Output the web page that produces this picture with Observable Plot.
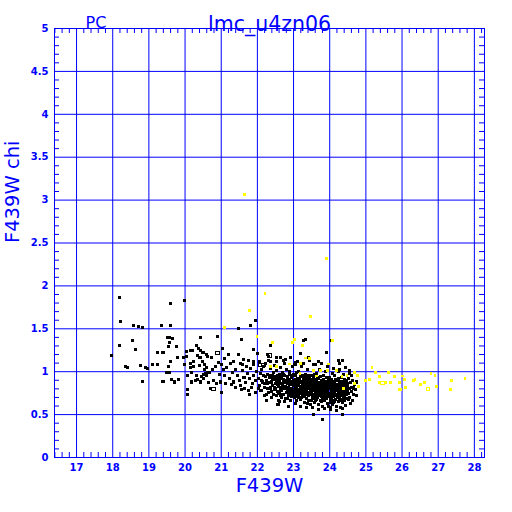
<!DOCTYPE html>
<html>
<head>
<meta charset="utf-8">
<script src="https://cdn.jsdelivr.net/npm/d3@7"></script>
<script src="https://cdn.jsdelivr.net/npm/@observablehq/plot@0.6"></script>
<style>
  body { margin: 0; background: #fff; }
  svg { display: block; }
</style>
</head>
<body>
<div id="chart"></div>
<script>
// ---- axis ticks / labels ----
const xTicks = [17, 18, 19, 20, 21, 22, 23, 24, 25, 26, 27, 28];
const yTicks = [0, 0.5, 1, 1.5, 2, 2.5, 3, 3.5, 4, 4.5, 5];
const titleText = "lmc_u4zn06";
const cornerText = "PC";
const xLabel = "F439W";
const yLabel = "F439W chi";

// ---- black stars (F439W, chi) ----
const blackSparse = [
  [18.18,1.86],[19.59,1.80],[19.98,1.83],[18.21,1.58],[18.58,1.54],[18.70,1.53],[18.81,1.51],[19.34,1.54],[19.61,1.54],
  [18.54,1.36],[18.18,1.30],[17.96,1.19],[18.64,1.26],[19.51,1.40],[19.56,1.40],[19.64,1.39],[19.56,1.34],[19.54,1.29],
  [19.76,1.29],[19.23,1.22],[19.39,1.22],[18.36,1.06],[18.40,1.05],[18.77,1.07],[18.91,1.05],[18.96,1.04],[19.10,1.08],
  [19.24,1.08],[19.55,1.06],[19.60,1.12],[19.78,1.16],[19.98,1.08],[18.81,0.89],[19.39,0.89],[19.48,0.99],[19.57,0.99],
  [19.63,0.91],[19.70,0.88],[19.83,0.91],[20.07,0.79],
  [20.04,1.23],[20.15,1.25],[20.20,1.25],[20.33,1.31],[20.38,1.27],[20.43,1.25],[20.35,1.19],[20.04,1.18],[19.96,1.17],
  [20.15,1.10],[20.24,1.12],[20.40,1.16],[20.47,1.12],[20.58,1.20],[20.62,1.18],[20.14,1.05],[20.24,1.06],[20.40,1.07],
  [20.53,1.02],[20.61,0.99],[20.06,0.96],[20.17,0.99],[20.33,0.96],[20.45,0.94],[20.56,0.98],[20.17,0.88],[20.29,0.90],
  [20.35,0.91],[20.42,0.88],[20.51,0.92],[20.59,0.95],[20.06,0.74],
  [20.44,1.40],[21.04,1.27],[21.88,1.26],[20.49,1.22],[20.51,1.22],[21.20,1.20],[21.48,1.20],[20.44,1.17],[20.72,1.16],
  [21.62,1.14],[21.76,1.13],[21.90,1.12],[20.93,1.11],[21.00,1.08],[21.25,1.09],[21.53,1.09],[21.80,1.54],[21.96,1.60],
  [21.49,1.50],[20.91,1.41],[21.55,1.38],[22.36,1.30],
  [20.55,1.08],[20.60,1.05],[20.52,0.97],[20.58,0.95],[20.80,0.90],[21.02,0.76],[21.53,0.84],[20.68,0.99],[20.75,1.03],
  [20.85,1.06],[20.95,0.97],[21.05,1.02],[21.10,0.95],[21.15,1.05],[21.22,0.92],[21.30,0.99],[21.35,0.88],[21.40,1.03],
  [21.45,0.95],[21.50,0.90],[21.58,1.01],[21.63,0.93],[21.68,0.87],[21.72,0.98],[21.78,0.92],[21.82,1.04],[21.86,0.86],
  [21.90,0.95],[21.94,0.90],[21.98,1.00],[21.65,0.80],[21.75,0.78],[21.85,0.82],[21.95,0.76],[21.40,0.82],[21.28,0.85],
  [20.88,0.86],[20.98,0.88],[21.12,0.86],[20.65,0.87],[20.70,0.80],[21.60,1.08],[21.70,1.06],[21.88,1.08],[21.35,1.12],
  [21.08,1.15],[21.55,0.79],[21.78,0.74],
  [21.99,1.21],[22.28,1.20],[22.37,1.12],[22.54,1.16],[22.65,1.17],[22.72,1.13],[22.91,1.17],[23.05,1.11],[23.19,1.21],
  [23.28,1.36],[23.32,1.37],[23.42,1.17],[23.55,1.08],[23.69,1.12],[23.92,1.22],[24.24,1.13],[24.27,1.09],[24.36,1.13],
  [24.55,1.01],[24.05,1.36],[22.61,0.65],[23.38,0.63],[24.01,0.58],[23.81,0.66],[23.80,0.44],[24.35,0.50],[23.55,0.50]
];

const blackDense = [
  [22.02,0.92],[22.05,0.84],[22.08,0.98],[22.10,0.78],[22.12,1.02],[22.14,0.88],[22.17,0.95],[22.19,0.72],[22.21,0.82],
  [22.23,1.10],[22.25,0.90],[22.27,0.86],[22.29,0.97],[22.31,0.76],[22.33,0.93],[22.35,0.81],[22.36,1.04],[22.38,0.88],
  [22.40,0.70],[22.41,0.95],[22.43,0.84],[22.44,0.99],[22.46,0.79],[22.47,0.91],[22.48,1.07],[22.49,0.86],[22.06,1.12],
  [22.16,1.06],[22.26,0.74],[22.32,1.13],[22.39,0.77],[22.45,0.73],[22.22,0.94],[22.28,0.80],[22.34,0.87],[22.42,0.92],
  [22.11,0.90],[22.20,0.86],[22.37,0.96],[22.47,0.82],[22.24,0.67],[22.30,1.18],[22.04,0.80],
  [22.50,0.94],[22.51,0.80],[22.52,0.88],[22.53,0.72],[22.54,1.01],[22.55,0.85],[22.56,0.77],[22.57,0.92],[22.58,0.67],
  [22.59,0.83],[22.60,0.97],[22.61,0.75],[22.62,0.89],[22.63,1.05],[22.64,0.81],[22.65,0.93],[22.66,0.70],[22.67,0.86],
  [22.68,0.78],[22.69,0.99],[22.70,0.84],[22.71,0.91],[22.72,0.74],[22.73,0.87],[22.74,1.09],[22.75,0.80],[22.76,0.95],
  [22.77,0.69],[22.78,0.83],[22.79,0.90],[22.80,0.76],[22.81,1.02],[22.82,0.86],[22.83,0.79],[22.84,0.94],[22.85,0.72],
  [22.86,0.88],[22.87,0.82],[22.88,0.97],[22.89,0.75],[22.90,0.91],[22.91,0.85],[22.92,0.66],[22.93,0.80],[22.94,0.93],
  [22.95,0.77],[22.96,1.06],[22.97,0.87],[22.98,0.73],[22.99,0.84],
  [22.52,1.12],[22.57,0.62],[22.61,0.86],[22.66,0.96],[22.70,0.73],[22.75,0.88],[22.79,0.81],[22.83,0.69],[22.87,0.91],
  [22.91,0.78],[22.95,0.89],[22.98,0.95],[22.54,0.90],[22.59,0.76],[22.64,0.72],[22.68,0.92],[22.73,0.97],[22.78,1.14],
  [22.82,0.92],[22.86,0.77],[22.90,1.00],[22.94,0.71],[22.97,0.79],[22.55,0.96],[22.63,0.78],[22.71,0.82],[22.80,0.89],
  [22.88,0.85],[22.93,0.87],[22.76,0.65],[22.85,0.60],
  [23.00,0.90],[23.01,0.78],[23.02,0.85],[23.03,0.70],[23.04,0.95],[23.05,0.82],[23.06,0.74],[23.07,0.88],[23.08,0.66],
  [23.09,0.80],[23.10,0.92],[23.11,0.76],[23.12,0.86],[23.13,1.00],[23.14,0.72],[23.15,0.84],[23.16,0.90],[23.17,0.79],
  [23.18,0.68],[23.19,0.87],[23.20,0.94],[23.21,0.75],[23.22,0.83],[23.23,1.06],[23.24,0.71],[23.25,0.89],[23.26,0.81],
  [23.27,0.77],[23.28,0.93],[23.29,0.64],[23.30,0.85],[23.31,0.79],[23.32,0.97],[23.33,0.73],[23.34,0.88],[23.35,0.82],
  [23.36,0.69],[23.37,0.91],[23.38,0.76],[23.39,1.03],[23.40,0.84],[23.41,0.80],[23.42,0.72],[23.43,0.92],[23.44,0.87],
  [23.45,0.66],[23.46,0.78],[23.47,0.95],[23.48,0.83],[23.49,0.74],
  [23.01,0.97],[23.03,0.88],[23.05,0.63],[23.07,0.79],[23.09,0.99],[23.11,0.84],[23.13,0.77],[23.15,0.70],[23.17,0.92],
  [23.19,0.81],[23.21,0.87],[23.23,0.78],[23.25,0.74],[23.27,0.90],[23.29,0.83],[23.31,0.71],[23.33,0.86],[23.35,0.93],
  [23.37,0.78],[23.39,0.88],[23.41,0.67],[23.43,0.81],[23.45,0.89],[23.47,0.76],[23.49,0.91],
  [23.02,0.76],[23.06,0.91],[23.10,0.71],[23.14,0.87],[23.18,0.96],[23.22,0.70],[23.26,0.86],[23.30,0.76],[23.34,0.80],
  [23.38,0.85],[23.42,0.96],[23.46,0.84],[23.04,1.08],[23.12,1.12],[23.20,0.60],[23.28,1.10],[23.36,0.58],[23.44,1.13],
  [23.48,0.62],[23.08,0.83],[23.16,0.75],[23.24,0.95],[23.32,0.89],[23.40,0.74],[23.47,0.86],
  [23.50,0.88],[23.51,0.75],[23.52,0.82],[23.53,0.69],[23.54,0.93],[23.55,0.79],[23.56,0.71],[23.57,0.86],[23.58,0.64],
  [23.59,0.80],[23.60,0.90],[23.61,0.73],[23.62,0.84],[23.63,0.98],[23.64,0.68],[23.65,0.81],[23.66,0.87],[23.67,0.76],
  [23.68,0.62],[23.69,0.85],[23.70,0.92],[23.71,0.72],[23.72,0.80],[23.73,1.03],[23.74,0.67],[23.75,0.86],[23.76,0.78],
  [23.77,0.74],[23.78,0.90],[23.79,0.60],[23.80,0.83],[23.81,0.77],[23.82,0.95],[23.83,0.70],[23.84,0.85],[23.85,0.79],
  [23.86,0.66],[23.87,0.88],[23.88,0.73],[23.89,1.00],[23.90,0.81],[23.91,0.76],[23.92,0.69],[23.93,0.89],[23.94,0.84],
  [23.95,0.63],[23.96,0.75],[23.97,0.92],[23.98,0.80],[23.99,0.71],
  [23.50,0.95],[23.52,0.72],[23.54,0.84],[23.56,0.78],[23.58,0.91],[23.60,0.66],[23.62,0.77],[23.64,0.88],[23.66,0.70],
  [23.68,0.82],[23.70,0.76],[23.72,0.87],[23.74,0.94],[23.76,0.71],[23.78,0.81],[23.80,0.68],[23.82,0.79],[23.84,0.91],
  [23.86,0.74],[23.88,0.83],[23.90,0.72],[23.92,0.86],[23.94,0.77],[23.96,0.82],[23.98,0.88],
  [23.51,0.66],[23.55,0.90],[23.59,0.74],[23.63,0.79],[23.67,0.93],[23.71,0.84],[23.75,0.73],[23.79,0.87],[23.83,0.76],
  [23.87,0.80],[23.91,0.93],[23.95,0.78],[23.99,0.84],[23.53,0.58],[23.61,1.08],[23.69,0.56],[23.77,1.10],[23.85,0.57],
  [23.93,1.06],[23.97,0.60],[23.57,0.97],[23.65,0.74],[23.73,0.77],[23.81,0.85],[23.89,0.69],[23.53,0.80],[23.66,0.83],
  [23.78,0.65],[23.90,0.88],[23.74,0.82],[23.62,0.70],[23.86,0.82],
  [24.00,0.86],[24.01,0.73],[24.02,0.80],[24.03,0.67],[24.04,0.91],[24.05,0.77],[24.06,0.70],[24.07,0.84],[24.08,0.62],
  [24.09,0.78],[24.10,0.88],[24.11,0.71],[24.12,0.82],[24.13,0.96],[24.14,0.66],[24.15,0.79],[24.16,0.85],[24.17,0.74],
  [24.18,0.60],[24.19,0.83],[24.20,0.90],[24.21,0.70],[24.22,0.78],[24.23,1.00],[24.24,0.65],[24.25,0.84],[24.26,0.76],
  [24.27,0.72],[24.28,0.88],[24.29,0.58],[24.30,0.81],[24.31,0.75],[24.32,0.93],[24.33,0.68],[24.34,0.83],[24.35,0.77],
  [24.36,0.64],[24.37,0.86],[24.38,0.71],[24.39,0.97],[24.40,0.79],[24.41,0.74],[24.42,0.67],[24.43,0.87],[24.44,0.82],
  [24.45,0.61],[24.46,0.73],[24.47,0.90],[24.48,0.78],[24.49,0.69],
  [24.00,0.93],[24.02,0.70],[24.04,0.82],[24.06,0.76],[24.08,0.89],[24.10,0.64],[24.12,0.75],[24.14,0.86],[24.16,0.68],
  [24.18,0.80],[24.20,0.74],[24.22,0.85],[24.24,0.92],[24.26,0.69],[24.28,0.79],[24.30,0.66],[24.32,0.77],[24.34,0.89],
  [24.36,0.72],[24.38,0.81],[24.40,0.70],[24.42,0.84],[24.44,0.75],[24.46,0.80],[24.48,0.86],
  [24.01,0.64],[24.05,0.88],[24.09,0.72],[24.13,0.77],[24.17,0.91],[24.21,0.82],[24.25,0.71],[24.29,0.85],[24.33,0.74],
  [24.37,0.78],[24.41,0.91],[24.45,0.76],[24.49,0.82],[24.03,0.56],[24.11,1.04],[24.19,0.55],[24.27,1.02],[24.35,0.57],
  [24.43,1.05],[24.07,0.98],[24.15,0.72],[24.23,0.75],[24.31,0.87],[24.39,0.67],
  [24.50,0.84],[24.52,0.75],[24.53,0.92],[24.55,0.80],[24.56,0.70],[24.58,0.87],[24.59,0.77],[24.61,0.82],[24.62,0.66],
  [24.64,0.90],[24.66,0.74],[24.68,0.85],[24.70,0.79],[24.73,0.72],[24.75,0.88],[24.54,0.98],[24.57,0.63],[24.60,0.95],
  [24.65,0.81],[24.51,0.68]
];

const blackOpen = [[20.90,1.22],[22.08,1.08],[22.17,1.08],[20.79,0.80],[24.11,0.66],[22.33,1.19]];

// ---- yellow stars ----
const yellowStars = [
  [21.65,3.07],[23.90,2.32],[22.21,1.91],[23.46,1.64],[21.78,1.71],[21.09,1.52],[21.99,1.41],[22.41,1.34],
  [22.96,1.34],[23.02,1.38],[23.25,1.31],[24.07,1.36],[23.32,1.16],[23.44,1.15],[22.88,1.09],[23.20,1.10],
  [23.97,1.09],[23.55,1.01],[23.74,1.01],[23.95,1.01],[24.18,1.01],[24.34,0.94],[24.48,0.96],[24.68,0.99],
  [24.77,0.96],[24.69,0.86],[24.80,0.83],[24.38,0.80],[22.36,1.06],[23.18,0.98],[23.64,0.95],[24.98,0.90],
  [25.09,0.91],[25.17,1.05],[25.26,0.99],[25.38,0.94],[25.38,0.87],[25.54,0.87],[25.63,0.99],[25.69,0.87],
  [25.78,0.94],[25.92,0.87],[25.92,0.79],[26.02,0.95],[26.06,0.91],[25.95,0.79],[26.09,0.82],[26.31,0.90],
  [26.36,0.91],[26.50,0.85],[26.62,0.87],[26.80,0.98],[26.91,0.96],[26.96,0.83],[27.34,0.79],[27.37,0.90],
  [27.74,0.92],[22.52,1.06]
];
const yellowOpen = [[26.71,0.80],[25.46,0.87]];

const xDomain = [16.39, 28.28];
const yDomain = [0, 5];
const blue = "#0000ff";

const toObj = a => a.map(([x, y]) => ({x, y}));
const xMinor = d3.range(164, 283, 2).map(v => v / 10).filter(v => !xTicks.includes(v));
const yMinor = d3.range(0, 51, 1).map(v => v / 10).filter(v => !yTicks.includes(v));

const plotW = 512, plotH = 512;
const mL = 54, mR = 28, mT = 28, mB = 55;
const pxX = (xDomain[1] - xDomain[0]) / (plotW - mL - mR);
const pxY = (yDomain[1] - yDomain[0]) / (plotH - mT - mB);
const tick = 5;

const chart = Plot.plot({
  width: plotW,
  height: plotH,
  marginLeft: mL, marginRight: mR, marginTop: mT, marginBottom: mB,
  style: {color: blue, background: "white", fontFamily: "DejaVu Sans"},
  x: {domain: xDomain},
  y: {domain: yDomain},
  marks: [
    Plot.ruleX(xTicks, {stroke: blue, strokeWidth: 1}),
    Plot.ruleY(yTicks, {stroke: blue, strokeWidth: 1}),
    Plot.ruleX(xMinor, {y1: yDomain[0], y2: yDomain[0] + tick * pxY, stroke: blue}),
    Plot.ruleX(xMinor, {y1: yDomain[1], y2: yDomain[1] - tick * pxY, stroke: blue}),
    Plot.ruleY(yMinor, {x1: xDomain[0], x2: xDomain[0] + tick * pxX, stroke: blue}),
    Plot.ruleY(yMinor, {x1: xDomain[1], x2: xDomain[1] - tick * pxX, stroke: blue}),
    Plot.frame({stroke: blue, strokeWidth: 1}),
    Plot.axisX(xTicks, {tickSize: 0, tickPadding: 6, fontSize: 10, fontWeight: "bold", label: null, tickFormat: d => String(d)}),
    Plot.axisY(yTicks, {tickSize: 0, tickPadding: 6, fontSize: 10, fontWeight: "bold", label: null, tickFormat: d => String(d)}),
    Plot.dot(toObj(blackSparse), {x: "x", y: "y", symbol: "square", r: 1.7, fill: "black", stroke: null, shapeRendering: "crispEdges"}),
    Plot.dot(toObj(blackDense), {x: "x", y: "y", symbol: "square", r: 1.7, fill: "black", stroke: null, shapeRendering: "crispEdges"}),
    Plot.dot(toObj(blackOpen), {x: "x", y: "y", symbol: "square", r: 1.9, fill: "none", stroke: "black", strokeWidth: 1, shapeRendering: "crispEdges"}),
    Plot.dot(toObj(yellowStars), {x: "x", y: "y", symbol: "square", r: 1.6, fill: "#ffff00", stroke: null, shapeRendering: "crispEdges"}),
    Plot.dot(toObj(yellowOpen), {x: "x", y: "y", symbol: "square", r: 1.9, fill: "none", stroke: "#ffff00", strokeWidth: 1, shapeRendering: "crispEdges"}),
    Plot.text([titleText], {frameAnchor: "top", dy: -12, fontSize: 20.5, fill: blue}),
    Plot.text([cornerText], {frameAnchor: "top-left", dx: 41.5, dy: -12, textAnchor: "middle", fontSize: 16, fill: blue}),
    Plot.text([xLabel], {frameAnchor: "bottom", dy: 34, fontSize: 19.5, fill: blue}),
    Plot.text([yLabel], {frameAnchor: "left", dx: -42, rotate: -90, fontSize: 19.5, fill: blue})
  ]
});
document.getElementById("chart").appendChild(chart);
</script>
</body>
</html>
